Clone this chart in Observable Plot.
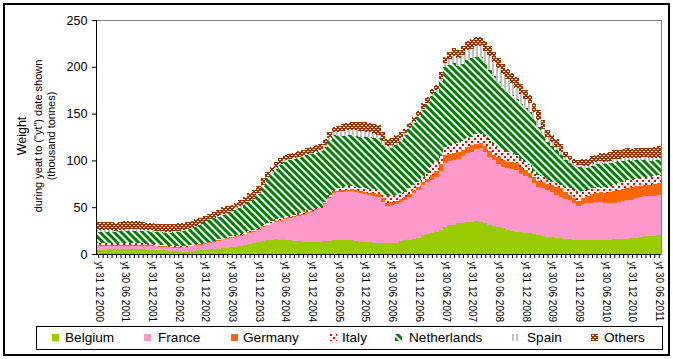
<!DOCTYPE html>
<html><head><meta charset="utf-8">
<script src="https://cdn.jsdelivr.net/npm/d3@7"></script>
<script src="https://cdn.jsdelivr.net/npm/@observablehq/plot@0.6"></script>
<style>
body{margin:0;background:#fff;font-family:"Liberation Sans",Arial,sans-serif;}
#wrap{position:relative;width:673px;height:359px;overflow:hidden;background:#fff;}
#border{position:absolute;left:3px;top:3px;width:667px;height:353px;border:2px solid #000;box-sizing:border-box;pointer-events:none;}
#legend{position:absolute;left:36px;top:326px;width:627px;height:24px;border:1px solid #000;box-sizing:border-box;background:#fff;}
.lg{position:absolute;top:0;height:22px;line-height:22px;font-size:13.6px;color:#000;white-space:nowrap;}
.sw{position:absolute;top:7px;width:7px;height:7px;}
.yt{position:absolute;white-space:nowrap;transform:translate(-50%,-50%) rotate(-90deg);color:#000;}
</style>
</head><body>
<svg width="0" height="0" style="position:absolute">
<defs>
<pattern id="pItaly" width="6" height="6" patternUnits="userSpaceOnUse">
 <rect width="6" height="6" fill="#fff"/>
 <rect x="0" y="0" width="2" height="2" fill="#ff0000"/>
 <rect x="3" y="3" width="2" height="2" fill="#ff0000"/>
</pattern>
<pattern id="pNeth" width="5" height="5" patternUnits="userSpaceOnUse" patternTransform="rotate(-45)">
 <rect width="5" height="5" fill="#fff"/>
 <rect width="3" height="5" fill="#008000"/>
</pattern>
<pattern id="pSpain" width="4" height="4" patternUnits="userSpaceOnUse">
 <rect width="4" height="4" fill="#fff"/>
 <rect width="2" height="4" fill="#c0c0c0"/>
</pattern>
<pattern id="pOthers" width="4" height="4" patternUnits="userSpaceOnUse">
 <rect width="4" height="4" fill="#993300"/>
 <rect x="1" y="1" width="2" height="1" fill="#fff"/>
 <rect x="3" y="3" width="2" height="1" fill="#fff"/>
 <rect x="-1" y="3" width="2" height="1" fill="#fff"/>
</pattern>
</defs></svg>
<div id="wrap"></div>
<script>
// ---- data (thousand tonnes), monthly from Dec 2000 (index 0) to Jun 2011 (index 126)
const series = ["Belgium","France","Germany","Italy","Netherlands","Spain","Others"];

const belgium = [4.3,4.5,4.8,5,5,5.2,5.3,5.3,5.3,5.2,5,4.8,4.5,
4.3,4,3.8,3.6,3.2,2.8,2.5,2.6,3,3.6,4,4.5,
5,5.3,5.6,6,6.5,7,7.8,8.5,9.5,10.5,11.4,12.5,
14,15,15.3,15.5,15.2,15,14.5,14,13.5,13,13,13,
13,13,13.5,14,15,15,15,15,14.5,14,13,13,
12.5,12,12,12,12,12,12,13.5,15,15.3,15.7,17,
20,21,22.5,23.8,26,29,30.5,31.5,32.8,33.5,34.5,34.5,
35,34.5,33,31,30,28.5,27.4,26,25,23.8,23,22.5,
22,21,20,19.5,18.5,18,17.5,16.7,16.2,15.7,15.3,15,
15,15,15,15,15,15,15.3,15.7,16,16,16.5,16.7,
17.5,18.5,19,19,19.5,20];

const france = [4.6,4.3,4,3.7,3.5,3.6,3.6,3.7,3.7,3.8,4,4.1,4.2,
4,3.8,3.6,3.5,3.6,4,4.6,4.8,5.2,5.7,6,6.5,
7,7.8,8.8,9.7,10,10.3,10.7,11,11.5,12,12.4,13.5,
15,16,17.5,19,20.5,22,23.5,25,27,28.7,30.5,32,
34,35.8,40,46,50.5,51,51.6,52,52.5,52,51.8,51,
50.5,50,49,44,39.3,40,41.4,42,42.7,46,49.1,51.5,
53.7,55.5,57,58.8,63,68.5,68.8,69,69.2,71,73,75,
77,78.4,76,73,70,68,65.9,65.5,66,65.9,63,60.5,
58.8,55,52,51,49.9,48,46,44.3,43,42,39,36.6,
38,39,40,41,41,40,39.5,39.3,40,40.5,41,41.5,
42,42,42.5,42.5,43,43];

const germany = [0.6,0.6,0.6,0.7,0.7,0.7,0.6,0.6,0.6,0.6,0.6,0.6,0.7,
0.7,0.7,0.7,0.7,0.6,0.5,0.5,0.5,0.5,0.5,0.4,0.4,
0.4,0.4,0.4,0.4,0.5,0.6,0.7,0.6,0.5,0.5,0.5,0.5,
0.5,0.5,0.6,0.7,0.9,1,1.1,1.2,1.3,1.3,1.2,1,
0.8,0.7,1,1.3,1.5,1.5,1.5,1.8,2,2.1,2.2,2.5,
2.7,2.9,3,3.4,3.7,3.7,3.6,3.4,3.3,3.2,3.2,3.3,
3.3,3.4,5,6.5,7.5,8,8,7.5,7,7,7,6.5,
6,6,6,6,6.3,6.6,7,7,7.2,7.3,7,6.5,
6,6,6,6.5,6.6,7.5,8.5,9,7,5.5,5.4,5.4,
6.5,8,9,9.5,10,10.5,11,12,12.5,13,13.3,13,
12.8,12.5,12.5,12.5,12.5,12.5];

const italy = [1.9,2,2,2,2,1.9,1.9,1.8,1.8,1.8,1.7,1.6,1.5,
1.4,1.3,1.2,1.1,1,0.9,0.9,0.9,0.9,0.9,0.8,0.8,
0.8,0.8,0.7,0.7,0.8,1,1.1,1.2,1.3,1.4,1.4,1.3,
1.3,1.3,1.5,1.7,1.8,1.9,2,2,2,2,1.8,1.5,
1.2,1,1.2,1.4,1.4,2.5,3.9,3.9,3.9,3.9,3.9,4,
4.2,4.3,4.4,5.5,7,6.5,6,5.8,5.6,5.6,5.7,5.6,
5.6,7,9.5,9,8.5,8.5,9,10,9.5,9,9,9.5,
10,10,11,12,11.5,11,10.5,10,9.5,9,8.7,8.3,
8,7.2,6.4,5,4,3.8,3.7,3.7,5,7.2,8.5,9.6,
8,6.4,6,5.9,5.9,6,6.3,6.7,7,7.5,8,8,
7.9,7.8,8,8.3,8.6,8.9];

const netherlands = [12.4,12.5,12.6,12.6,12.6,13,13.3,13.5,13.6,13.6,13.5,13.3,13.1,
13,13.2,13.5,13.9,14.8,15.8,16.5,16.8,17.2,17.8,19.5,21.5,
23.1,23.8,24.5,25,25.5,26,26.7,28,29.5,31,32.1,36,
42,48,51,54,56.5,58.7,59,59,59,59,59.2,59.3,
59.4,59.5,59,58.8,58.6,56,54.1,54,54,54,54.1,54.5,
55,55,55.2,52,50,51.5,53.5,57,60.4,63,65.9,68.5,
71.2,73.5,75,75.4,80,86,86,86,82,83,84,83.5,
83,81.8,78,74.6,72,69.5,67,65,62.5,60,59,58,
57,54.5,51.6,46,41,38,35,32,29,26.8,26.7,26.7,
25,23.1,24,24.5,25.1,25,25,24.9,23.5,22.5,21.4,20.5,
20,19.6,18.5,17.5,16.5,16];

const spain = [1.8,1.6,1.4,1.3,1.2,1.3,1.4,1.5,1.5,1.4,1.3,1.2,1.2,
1.2,1.2,1.2,1.2,1.1,1,1,1,1,1,0.9,0.8,
0.7,0.7,0.8,0.8,1,1.3,1.8,1.6,1.4,1.3,1.3,1.2,
1.2,1.2,1.3,1.3,1.4,1.4,1.3,1.2,1.1,1,1,1,
1,1,1.5,2,3,4,5,5.5,6,6,6,5.5,
5,4.5,4,3.6,3,2.5,2.5,2.2,2,1.7,1.4,1.3,
1.2,1.3,1.5,1.6,2.5,4,6,8,9.3,9.6,10,10.5,
11,11.2,13,15,15.5,15.2,15,13.5,12,11,10,9.5,
9,8,7,6,5,4,3.5,3.2,3.1,3,2,1.7,
2,2.5,2.3,2.1,2,2,2.2,2.4,2.5,2.6,2.6,2.6,
2.6,2.6,2.6,2.6,2.6,2.6];

const others = [8.9,8.8,8.7,8.6,8.5,8.6,8.7,8.8,8.7,8.5,8.3,8,7.8,
7.8,7.9,8,8,7.8,7.6,7.5,7.5,7.5,7.5,7,6.5,
5.7,6,6.5,7.3,7,6.5,6,6.5,7.5,8.5,9.4,8,
7,6,6,6,5.9,5.8,5.8,5.9,6,6,6.3,6.5,
6.8,7,7,6.5,5.5,6.5,7.5,8,8.5,9,9.5,10,
10.3,10.5,10.7,9.5,8,7.5,8,6.5,5,5.3,5.7,5.8,
6,5.8,5.6,5.5,6.5,7,7.5,8,8.5,9,9.6,9.8,
10,10,10.5,11,11,10.5,10,10.5,11,12,11,10,
9,9.5,10.8,9,7.5,7.8,8.5,9,6,4,4.5,5.4,
6.5,8,8.2,8.3,8.5,9,9.5,10,10,10,10,10,
10,10,10.5,11,11.5,12.4];

const tickLabels = ["yt 31 12 2000","yt 30 06 2001","yt 31 12 2001","yt 30 06 2002","yt 31 12 2002",
"yt 30 06 2003","yt 31 12 2003","yt 30 06 2004","yt 31 12 2004","yt 30 06 2005","yt 31 12 2005",
"yt 30 06 2006","yt 31 12 2006","yt 30 06 2007","yt 31 12 2007","yt 30 06 2008","yt 31 12 2008",
"yt 30 06 2009","yt 31 12 2009","yt 30 06 2010","yt 31 12 2010","yt 30 06 2011"];
const yTicks = [0,50,100,150,200,250];

// ---- styling
const fills = ["#99cc00","#ff99cc","#ff6600","url(#pItaly)","url(#pNeth)","url(#pSpain)","url(#pOthers)"];

const valuesBySeries = [belgium,france,germany,italy,netherlands,spain,others];
const nMonths = belgium.length;
const data = [];
series.forEach((s, k) => valuesBySeries[k].forEach((v, i) => data.push({i, series: s, value: v})));

const chart = Plot.plot({
  width: 673, height: 359,
  marginLeft: 96, marginRight: 12, marginTop: 20, marginBottom: 105,
  style: {fontFamily: "'Liberation Sans', Arial, sans-serif", background: "transparent", overflow: "visible"},
  x: {type: "band", domain: d3.range(nMonths), padding: 0, axis: null},
  y: {domain: [0, 250], axis: null},
  color: {domain: series, range: fills},
  marks: [
    Plot.frame({stroke: "#808080"}),
    Plot.barY(data, {x: "i", y: "value", fill: "series", order: series, shapeRendering: "crispEdges"}),
    Plot.frame({anchor: "left", stroke: "#000"}),
    Plot.ruleY([0], {stroke: "#000"}),
    Plot.axisY({ticks: yTicks, tickSize: 4, tickPadding: 5, fontSize: 12.6, label: null, tickFormat: d => String(d)}),
    Plot.axisX({ticks: d3.range(nMonths), tickSize: 4, tickPadding: 3, tickRotate: 90, fontSize: 10, label: null,
      tickFormat: i => (i % 6 === 0 ? tickLabels[i / 6] : "")})
  ]
});
const wrap = document.getElementById("wrap");
wrap.appendChild(chart);

// y-axis title (three lines)
const yTitle = [
  {text: "Weight", x: 22, size: 12.5},
  {text: "during yeat to (\"yt\") date shown", x: 38, size: 11},
  {text: "(thousand tonnes)", x: 51, size: 11}
];
yTitle.forEach(t => {
  const d = document.createElement("div");
  d.className = "yt";
  d.style.left = t.x + "px";
  d.style.top = "136px";
  d.style.fontSize = t.size + "px";
  d.textContent = t.text;
  wrap.appendChild(d);
});

// legend
const legendLayout = [[15,28],[107,121],[194,206],[293,305],[358,372],[475,490],[554,567]];
const lg = document.createElement("div");
lg.id = "legend";
series.forEach((s, k) => {
  const sw = document.createElementNS("http://www.w3.org/2000/svg", "svg");
  sw.setAttribute("class", "sw");
  sw.setAttribute("width", 7); sw.setAttribute("height", 7);
  sw.style.left = legendLayout[k][0] + "px";
  const r = document.createElementNS("http://www.w3.org/2000/svg", "rect");
  r.setAttribute("width", 7); r.setAttribute("height", 7); r.setAttribute("fill", fills[k]);
  sw.appendChild(r);
  lg.appendChild(sw);
  const t = document.createElement("div");
  t.className = "lg";
  t.style.left = legendLayout[k][1] + "px";
  t.textContent = s;
  lg.appendChild(t);
});
wrap.appendChild(lg);
const b = document.createElement("div");
b.id = "border";
wrap.appendChild(b);
</script>
</body></html>
